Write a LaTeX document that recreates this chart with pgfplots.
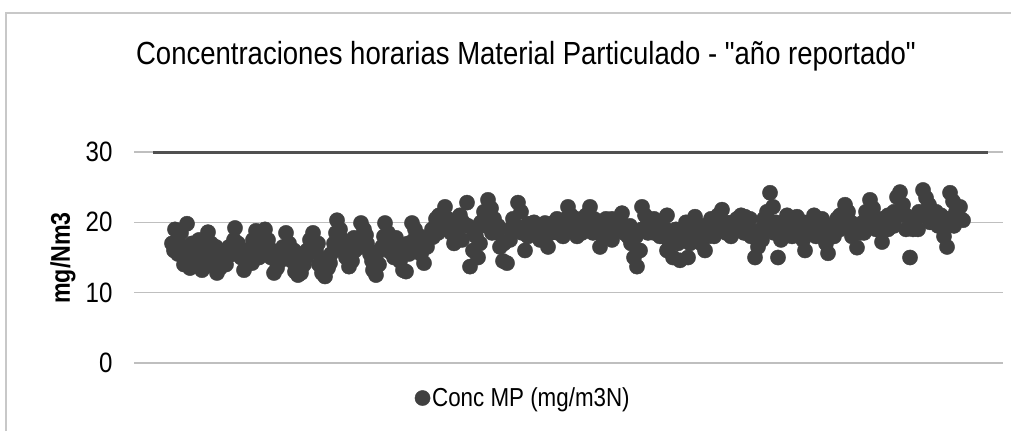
\documentclass[border=0pt]{standalone}
\usepackage{fontspec}
\setmainfont{Liberation Sans}[FakeStretch=0.86, Ligatures=TeXOff]
\usepackage{pgfplots}
\pgfplotsset{compat=1.18}
\usepackage{pgfplotstable}
\definecolor{dots}{RGB}{64,64,64}
\definecolor{limitc}{RGB}{80,80,80}
\definecolor{gridc}{RGB}{191,191,191}
\definecolor{framec}{RGB}{200,200,200}
\pgfplotstableread{
x y
172 17.0
175 19.0
178 15.5
181 18.5
184 14.0
187 19.8
190 13.5
193 14.5
196 16.5
199 17.5
202 13.2
205 13.7
208 18.6
211 17.0
214 14.5
217 12.8
220 13.5
223 15.8
226 14.0
229 16.5
232 15.5
235 19.2
238 17.0
241 15.0
244 13.2
247 14.5
250 16.2
253 17.5
256 18.8
259 15.0
262 16.0
265 19.0
268 17.5
271 15.0
274 12.8
277 13.5
280 14.5
283 16.5
286 18.5
289 17.0
292 14.5
295 13.0
298 12.5
301 12.8
304 14.0
307 16.0
310 17.5
313 18.5
316 16.0
319 14.0
322 12.8
325 12.3
328 13.5
331 15.5
334 17.0
337 20.3
340 19.0
343 17.5
346 15.0
349 13.7
352 14.5
355 16.0
358 17.5
361 19.9
364 19.0
367 17.0
370 15.5
373 13.2
376 12.5
379 14.0
382 16.5
385 19.9
388 18.5
391 17.0
394 15.0
397 16.4
400 14.5
403 13.2
406 13.0
409 15.5
412 19.9
415 19.0
418 17.0
421 15.5
424 14.2
427 16.5
430 18.0
433 17.9
436 20.5
439 21.0
442 19.5
445 22.2
448 20.5
451 18.5
454 17.0
457 18.5
460 21.0
463 20.0
467 22.8
470 13.7
473 16.0
476 18.0
478 15.0
481 20.0
484 21.5
488 23.2
491 22.0
494 20.5
497 18.5
500 16.5
503 14.5
507 14.2
510 17.5
513 20.5
518 22.8
521 21.5
525 16.0
528 18.0
531 19.5
534 20.0
537 18.5
540 17.5
543 19.0
545 19.9
548 16.5
551 18.5
554 20.0
557 20.5
560 19.0
563 18.0
566 20.5
568 22.2
571 21.0
574 19.5
577 18.0
580 19.5
583 20.5
586 21.0
590 22.2
593 18.5
596 19.5
600 16.5
603 18.0
606 20.5
609 19.0
612 17.5
615 19.5
619 20.5
622 21.3
625 19.5
628 18.0
631 17.0
634 15.0
637 13.7
640 16.0
642 22.2
645 21.0
648 20.0
651 19.0
654 18.5
657 20.0
660 19.5
663 18.0
667 21.0
667 16.0
670 17.0
673 15.0
676 19.0
680 14.6
683 17.5
686 20.0
688 15.0
692 18.5
695 20.8
698 19.0
701 17.0
705 16.0
708 19.5
711 20.5
715 19.5
718 21.0
722 21.8
725 20.0
728 19.0
731 18.0
734 19.5
737 20.5
741 21.0
745 20.8
748 19.5
751 18.0
755 15.0
758 16.5
761 19.0
764 20.5
767 21.5
770 24.2
773 22.2
776 20.0
778 15.0
781 17.5
784 19.5
787 21.0
790 20.0
793 19.5
797 20.8
800 19.0
803 17.5
805 16.0
808 18.5
811 20.0
814 21.0
817 20.5
820 19.5
823 18.5
826 17.0
828 15.6
831 18.0
834 19.5
837 20.5
840 21.0
843 20.0
845 22.5
848 21.5
851 20.0
854 19.0
857 16.4
860 18.5
863 20.0
866 21.5
870 23.2
873 22.0
876 20.5
879 19.0
882 17.2
885 19.5
888 21.0
891 20.0
894 21.5
897 23.6
900 24.3
903 22.5
906 21.0
910 15.0
913 19.0
916 20.5
919 21.5
923 24.6
926 23.5
929 22.5
932 21.0
935 20.0
938 19.5
941 21.0
944 18.0
947 16.5
950 24.2
953 23.0
956 21.5
960 22.2
963 20.3
174 16.0
180 16.8
186 15.2
192 17.0
198 15.0
204 15.8
210 15.5
216 16.5
222 14.8
228 15.2
234 17.5
240 16.0
246 15.5
252 14.2
258 17.0
264 17.5
270 16.2
276 14.8
282 15.5
288 15.8
294 16.0
300 14.5
306 15.0
312 15.8
318 17.0
324 14.8
330 14.2
336 18.5
342 16.0
348 16.5
354 17.8
360 16.5
366 18.2
372 14.5
378 15.8
384 18.0
390 15.8
396 17.8
402 15.5
408 17.0
414 17.5
420 18.0
426 17.5
432 19.0
438 18.5
444 20.5
450 19.5
456 20.0
462 17.5
468 19.5
474 18.5
480 17.0
486 19.5
492 18.5
498 19.5
504 17.0
510 19.0
516 19.5
522 18.5
528 19.8
534 18.5
540 19.5
546 18.0
552 19.5
558 18.5
564 19.5
570 19.0
576 20.5
582 18.5
588 19.5
594 20.5
600 19.0
606 18.0
612 20.5
618 19.0
624 18.5
630 19.5
636 18.0
642 19.0
648 18.5
654 20.5
660 18.0
666 19.0
672 18.0
678 17.0
684 18.5
690 17.0
696 17.5
702 19.5
708 18.0
714 18.0
720 19.5
726 18.5
732 20.0
738 19.0
744 18.5
750 20.5
756 18.0
762 17.5
768 19.5
774 18.5
780 19.0
786 18.5
792 18.0
798 19.5
804 20.0
810 19.5
816 18.0
822 20.5
828 19.5
834 18.0
840 19.0
846 20.5
852 18.0
858 19.5
864 18.5
870 20.0
876 19.0
882 20.5
888 19.0
894 19.5
900 21.0
906 19.0
912 20.0
918 19.0
924 21.0
930 20.0
936 21.5
942 19.5
948 20.5
954 19.5
960 20.5
}\concdata
\begin{document}
\begin{tikzpicture}[x=1pt,y=1pt]
\useasboundingbox (0,0) rectangle (1011,431);
\fill[white] (0,0) rectangle (1011,431);
\draw[framec, line width=1.5pt] (6,0) -- (6,418) -- (1011,418);
\node[font=\fontsize{32}{36}\selectfont] at (526,375) {Concentraciones horarias Material Particulado - "año reportado"};
\node[font=\fontsize{27}{31}\selectfont\bfseries, rotate=90] at (63,173) {mg/Nm3};
\begin{axis}[
  at={(134pt,68pt)}, anchor=south west,
  scale only axis, width=869pt, height=211pt,
  xmin=134, xmax=1003, ymin=0, ymax=30,
  ytick={0,10,20,30}, xtick=\empty,
  ymajorgrids, grid style={gridc, line width=1.5pt},
  axis line style={draw=none}, major tick style={draw=none},
  /pgf/number format/assume math mode=true,
  yticklabel style={font=\fontsize{28}{32}\selectfont, xshift=-18pt},
  clip=false,
  legend style={at={(0.448,-0.166)}, anchor=center, draw=none, fill=none,
    font=\fontsize{26}{30}\selectfont, inner sep=0pt},
  legend cell align=left,
]
\addplot[limitc, line width=3pt, forget plot] coordinates {(153,30) (988,30)};
\addplot[only marks, mark=*, mark size=7.6pt, color=dots, mark options={fill=dots, draw=dots}] table[x=x,y=y] {\concdata};
\addlegendentry{Conc MP (mg/m3N)}
\end{axis}
\end{tikzpicture}
\end{document}
